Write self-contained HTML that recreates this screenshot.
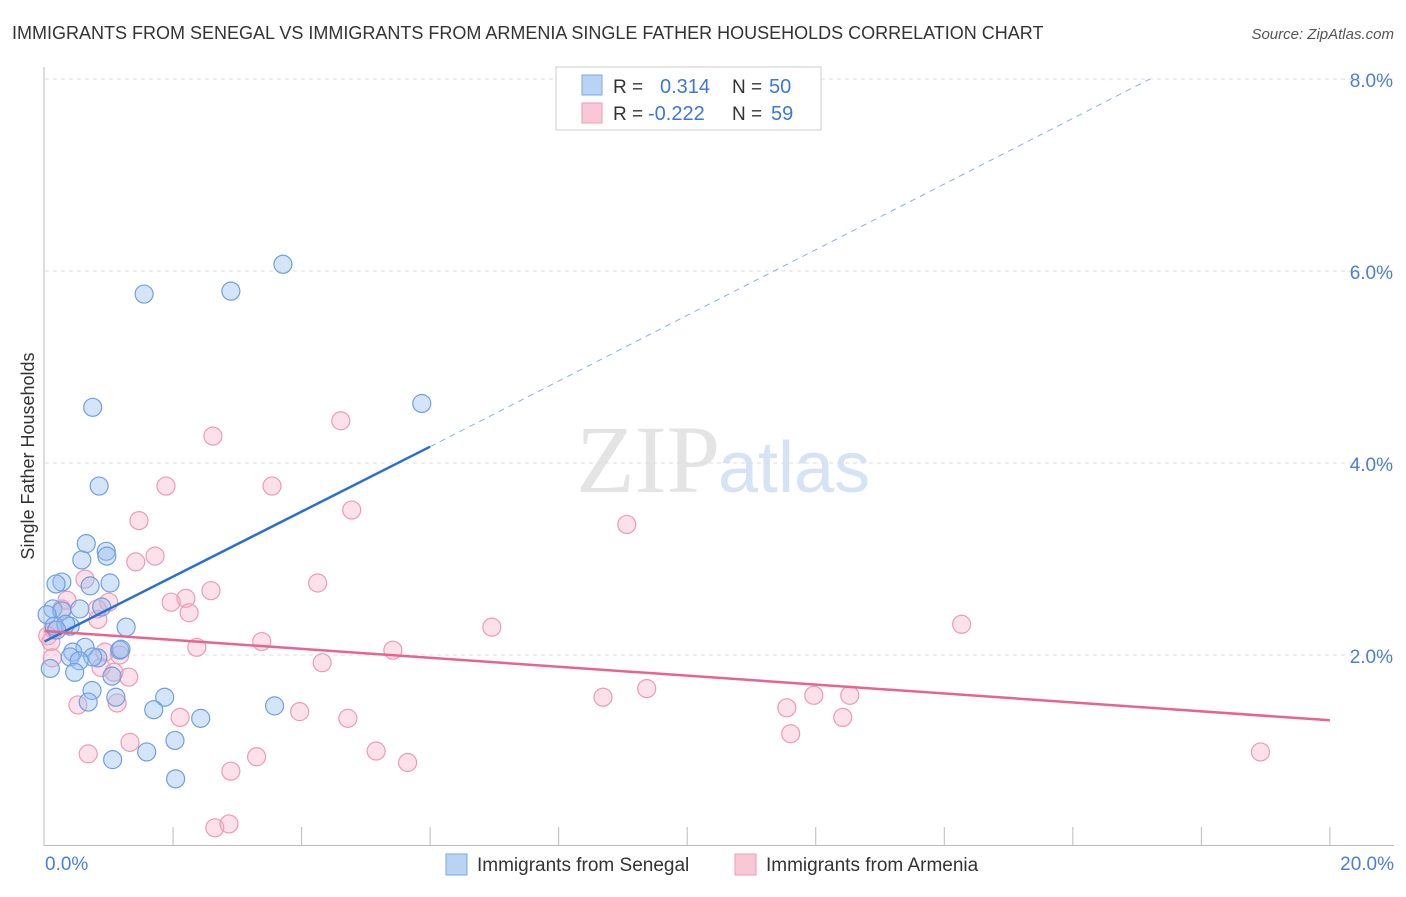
<!DOCTYPE html>
<html><head><meta charset="utf-8"><style>
body{margin:0;background:#fff;font-family:"Liberation Sans",sans-serif;}
</style></head><body>
<svg width="1406" height="892" xmlns="http://www.w3.org/2000/svg">
<text x="12" y="39" font-size="18" fill="#333">IMMIGRANTS FROM SENEGAL VS IMMIGRANTS FROM ARMENIA SINGLE FATHER HOUSEHOLDS CORRELATION CHART</text>
<text x="1394" y="39" font-size="15" fill="#555" text-anchor="end" font-style="italic">Source: ZipAtlas.com</text>
<text x="720" y="492" font-size="96" fill="#e4e4e4" text-anchor="end" font-family="Liberation Serif">ZIP</text>
<text x="718" y="492" font-size="72" fill="#d6e3f5">atlas</text>
<g id="grid"></g>
<g id="axes"></g>
<text transform="translate(34,456) rotate(-90)" font-size="18" fill="#333" text-anchor="middle">Single Father Households</text>
<g id="pts"></g>
<g id="lines"></g>
<g>
<rect x="556" y="67" width="265" height="63" fill="#fff" stroke="#ccc"/>
<rect x="582" y="75" width="20" height="20" fill="#b9d3f5" stroke="#7aa6e8"/>
<rect x="582" y="103" width="20" height="20" fill="#f9c8d6" stroke="#ee9ab4"/>
<text x="613" y="93" font-size="19" fill="#333">R = </text><text x="660" y="93" font-size="20" fill="#3b78d8">0.314</text>
<text x="732" y="93" font-size="19" fill="#333">N = </text><text x="769" y="93" font-size="20" fill="#3b78d8">50</text>
<text x="613" y="120" font-size="19" fill="#333">R = </text><text x="648" y="120" font-size="20" fill="#3b78d8">-0.222</text>
<text x="732" y="120" font-size="19" fill="#333">N = </text><text x="771" y="120" font-size="20" fill="#3b78d8">59</text>
</g>
<g>
<rect x="446" y="854" width="21" height="21" fill="#b9d3f5" stroke="#7aa6e8"/>
<text x="477" y="871" font-size="19" fill="#333">Immigrants from Senegal</text>
<rect x="735" y="854" width="21" height="21" fill="#f9c8d6" stroke="#ee9ab4"/>
<text x="766" y="871" font-size="19" fill="#333">Immigrants from Armenia</text>
</g>
</svg>
<script>
const xTicks=[0,2,4,6,8,10,12,14,16,18,20];
const yTicks=[2,4,6,8];
const senegalX=[3.71,1.55,2.90,5.87,0.75,0.85,0.65,0.58,0.96,0.97,1.02,0.27,0.18,0.71,0.13,0.27,0.04,0.55,0.89,0.15,0.40,0.33,1.27,0.19,0.63,0.44,0.40,0.83,0.75,1.17,1.19,0.54,0.09,0.47,1.05,0.74,1.11,1.87,0.68,1.70,2.43,3.58,2.03,1.59,1.06,2.04];
const senegalY=[6.07,5.76,5.79,4.62,4.58,3.76,3.16,2.99,3.08,3.03,2.75,2.76,2.74,2.72,2.48,2.46,2.42,2.48,2.50,2.30,2.30,2.32,2.29,2.26,2.08,2.03,1.98,1.97,1.98,2.05,2.06,1.94,1.86,1.82,1.78,1.63,1.56,1.56,1.51,1.43,1.34,1.47,1.11,0.99,0.91,0.71];
const armeniaX=[4.61,2.62,1.89,3.54,4.78,1.47,9.06,1.72,1.42,0.63,4.25,2.59,2.20,1.97,1.00,0.82,0.35,0.27,2.25,0.83,6.96,14.27,0.15,0.05,3.38,2.37,5.42,0.94,1.17,0.10,0.12,4.32,0.88,1.31,1.08,9.37,8.69,12.53,11.97,11.55,0.52,1.13,2.11,3.97,4.72,12.42,11.61,1.33,0.68,5.16,3.30,18.92,5.65,2.90,2.65,2.87];
const armeniaY=[4.44,4.28,3.76,3.76,3.51,3.40,3.36,3.03,2.97,2.79,2.75,2.67,2.59,2.55,2.55,2.48,2.57,2.48,2.44,2.37,2.29,2.32,2.26,2.20,2.14,2.08,2.05,2.03,2.00,2.14,1.97,1.92,1.87,1.77,1.82,1.65,1.56,1.58,1.58,1.45,1.48,1.50,1.35,1.41,1.34,1.35,1.18,1.09,0.97,1.00,0.94,0.99,0.88,0.79,0.20,0.24];
const blueLine=[0,2.14,6.0,4.17,17.2,8.0];
const pinkLine=[0,2.25,20,1.32];
const X=v=>44.5+v*64.27, Y=v=>847-v*96;
const NS="http://www.w3.org/2000/svg";
function mk(tag,attrs,parent){const e=document.createElementNS(NS,tag);for(const k in attrs)e.setAttribute(k,attrs[k]);document.getElementById(parent).appendChild(e);return e;}
yTicks.forEach(t=>{
 const l=mk('line',{x1:45,x2:1394,y1:Y(t),y2:Y(t),stroke:'#ddd','stroke-dasharray':'4,4'},'grid');
 
 
 const tx=mk('text',{x:1393,y:Y(t)+8,'font-size':19,fill:'#4a7fd6','text-anchor':'end'},'grid');
 tx.textContent=t.toFixed(1)+'%';
 
 
});
mk('line',{x1:44,x2:44,y1:67,y2:846,stroke:'#bbb'},'axes');
mk('line',{x1:44,x2:1394,y1:845.5,y2:845.5,stroke:'#bbb'},'axes');
xTicks.forEach(t=>{
 if(t===0)return;
 const l=mk('line',{x1:X(t),x2:X(t),y1:827,y2:845,stroke:'#bbb'},'axes');
 
 
});
[[0,'start',45],[20,'end',1394]].forEach(([v,a,x])=>{
 const tx=mk('text',{x:x,y:870,'font-size':19,fill:'#4a7fd6','text-anchor':a},'axes');
 tx.textContent=v.toFixed(1)+'%';
 
 
});
armeniaX.forEach((v,i)=>{
 const c=mk('circle',{cx:X(v),cy:Y(armeniaY[i]),r:9,fill:'rgba(246,170,195,0.35)',stroke:'#ec9bb5','stroke-width':1.2},'pts');
 
 
});
senegalX.forEach((v,i)=>{
 const c=mk('circle',{cx:X(v),cy:Y(senegalY[i]),r:9,fill:'rgba(150,190,240,0.4)',stroke:'#6f9fe3','stroke-width':1.2},'pts');
 
 
});
let b=mk('line',{x1:X(blueLine[0]),y1:Y(blueLine[1]),x2:X(blueLine[2]),y2:Y(blueLine[3]),stroke:'#2a6fd6','stroke-width':2.5},'lines');


let bd=mk('line',{x1:X(blueLine[2]),y1:Y(blueLine[3]),x2:X(blueLine[4]),y2:Y(blueLine[5]),stroke:'#8ab0e8','stroke-width':1,'stroke-dasharray':'6,5'},'lines');


let p=mk('line',{x1:X(pinkLine[0]),y1:Y(pinkLine[1]),x2:X(pinkLine[2]),y2:Y(pinkLine[3]),stroke:'#e8638f','stroke-width':2.5},'lines');


</script>
</body></html>
